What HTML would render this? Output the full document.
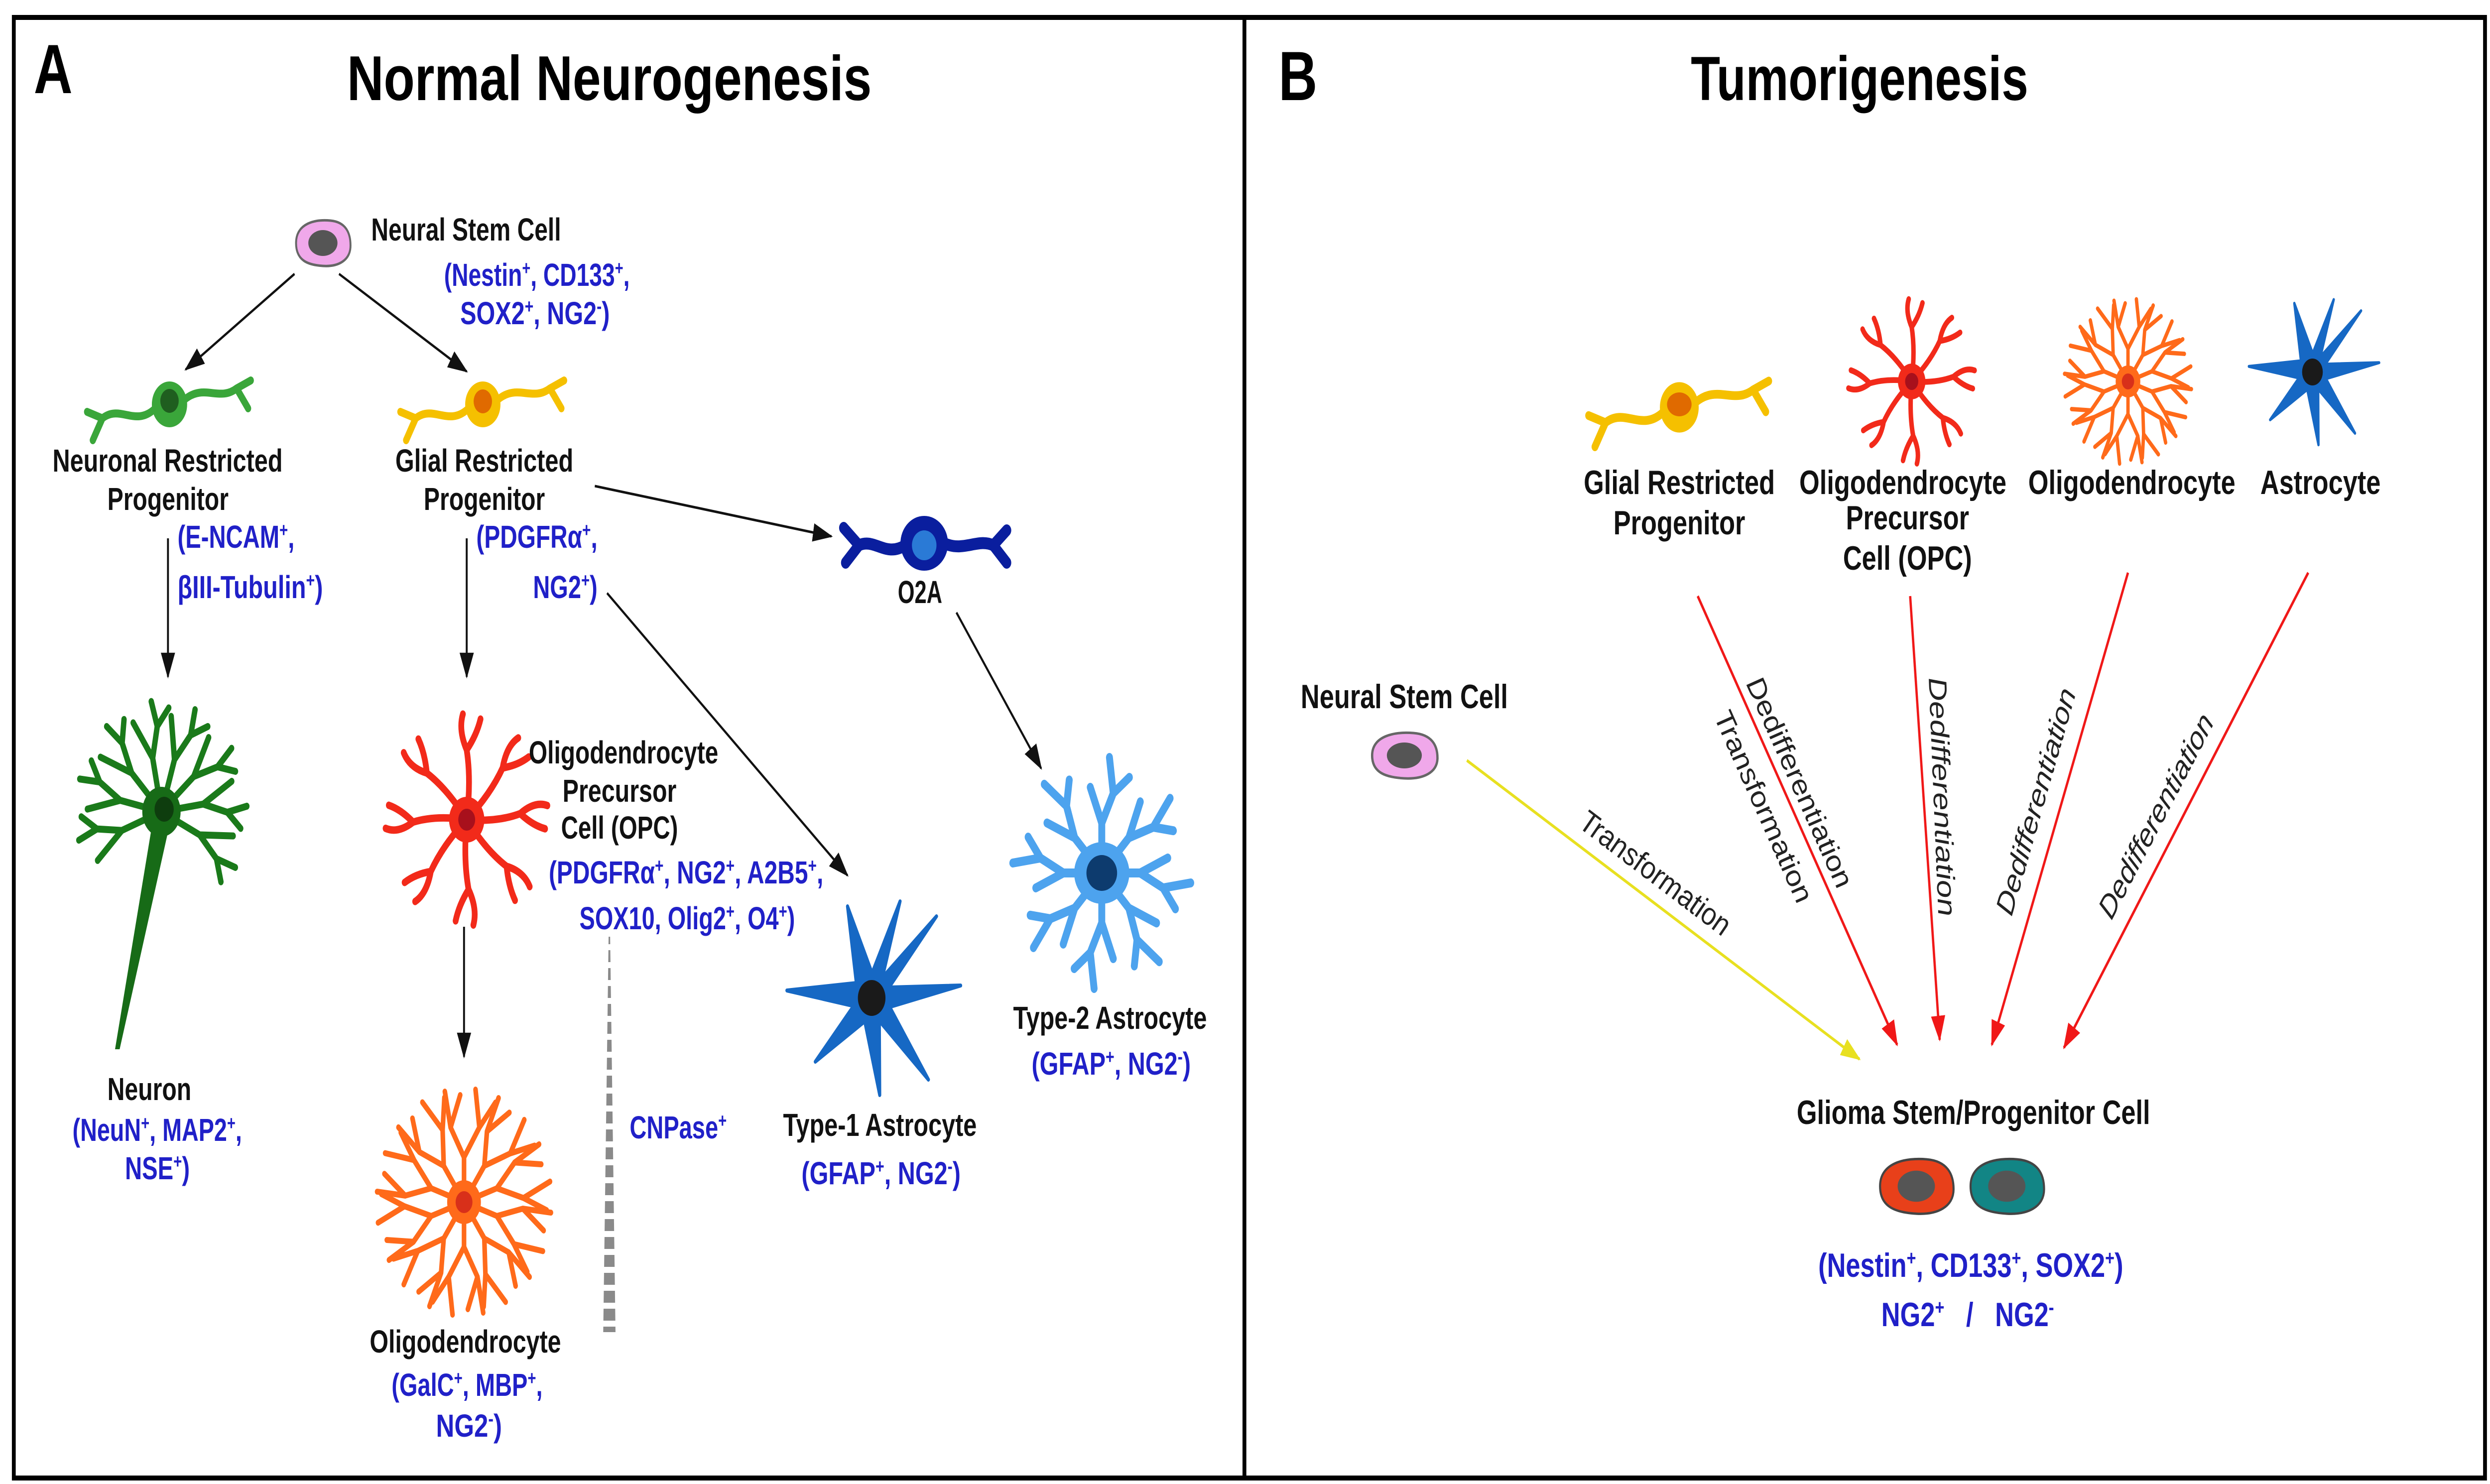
<!DOCTYPE html>
<html><head><meta charset="utf-8"><style>
html,body{margin:0;padding:0;background:#fff;width:100%;height:100%;overflow:hidden}
svg{display:block;width:100vw;height:100vh}
text{font-family:"Liberation Sans",Arial,sans-serif;font-weight:bold}
.k{fill:#111;font-size:64px}
.b{fill:#2020c8;font-size:64px}
.bk{fill:#111;font-size:68px}
.bb{fill:#2020c8;font-size:68px}
.it{fill:#222;font-size:66px;font-weight:normal;font-style:italic}
</style></head><body>
<svg viewBox="0 0 6493 2980" preserveAspectRatio="none" xmlns="http://www.w3.org/2000/svg">
<defs>
<marker id="mk" viewBox="0 0 14 10" refX="13" refY="5" markerWidth="52" markerHeight="38" markerUnits="userSpaceOnUse" orient="auto"><path d="M0,0 L14,5 L0,10 z" fill="#111"/></marker>
<marker id="mr" viewBox="0 0 14 10" refX="13" refY="5" markerWidth="52" markerHeight="38" markerUnits="userSpaceOnUse" orient="auto"><path d="M0,0 L14,5 L0,10 z" fill="#f01818"/></marker>
<marker id="my" viewBox="0 0 14 10" refX="13" refY="5" markerWidth="52" markerHeight="38" markerUnits="userSpaceOnUse" orient="auto"><path d="M0,0 L14,5 L0,10 z" fill="#e8e020"/></marker>
<pattern id="stripes" patternUnits="userSpaceOnUse" width="80" height="36"><rect width="80" height="24" fill="#8a8a8a"/></pattern>

<g id="bip" fill="none" stroke="currentColor" stroke-width="16" stroke-linecap="round">
 <path d="M-40,10 C-90,45 -130,0 -175,28 L-215,15 M-175,28 L-200,72"/>
 <path d="M40,-10 C90,-42 130,-5 175,-32 L212,-48 M175,-32 L205,8"/>
 <circle cx="0" cy="0" r="46" fill="currentColor" stroke="none"/>
</g>
<path id="armO" d="M0,0 Q12,-80 0,-140 Q-22,-180 -10,-212 M0,-140 Q26,-170 36,-202" fill="none" stroke="currentColor" stroke-width="15" stroke-linecap="round"/>
<path id="armL" d="M0,0 L0,-90 L-35,-150 L-50,-222 M-35,-150 L-10,-215 M0,-90 L40,-150 L30,-226 M40,-150 L82,-200" fill="none" stroke="currentColor" stroke-width="12" stroke-linecap="round" stroke-linejoin="round"/>
<path id="armA" d="M0,0 L0,-100 L-30,-172 M0,-100 L30,-160 L20,-232 M30,-160 L72,-192" fill="none" stroke="currentColor" stroke-width="18" stroke-linecap="round" stroke-linejoin="round"/>
<path id="armN" d="M0,0 L0,-110 L-35,-190 M0,-110 L25,-170 L20,-222 M25,-170 L62,-200" fill="none" stroke="currentColor" stroke-width="14" stroke-linecap="round" stroke-linejoin="round"/>

<g id="opc" color="#f22a1a">
 <use href="#armO" transform="rotate(0)"/><use href="#armO" transform="rotate(42)"/><use href="#armO" transform="rotate(85)"/><use href="#armO" transform="rotate(132)"/><use href="#armO" transform="rotate(178)"/><use href="#armO" transform="rotate(222)"/><use href="#armO" transform="rotate(268)"/><use href="#armO" transform="rotate(312)"/>
 <circle r="46" fill="#f22a1a"/><circle r="22" fill="#a8101c"/>
</g>
<g id="olig" color="#ff6a1a">
 <use href="#armL" transform="rotate(0)"/><use href="#armL" transform="rotate(36)"/><use href="#armL" transform="rotate(72)"/><use href="#armL" transform="rotate(108)"/><use href="#armL" transform="rotate(144)"/><use href="#armL" transform="rotate(180)"/><use href="#armL" transform="rotate(216)"/><use href="#armL" transform="rotate(252)"/><use href="#armL" transform="rotate(288)"/><use href="#armL" transform="rotate(324)"/>
 <circle r="44" fill="#ff6a1a"/><circle r="22" fill="#d8301a"/>
</g>
<g id="star">
 <polygon points="-63,-184 1,-50 74,-194 28,-41 169,-164 45,-21 232,-25 47,18 148,164 20,46 21,195 -18,47 -147,128 -47,16 -221,-15 -40,-30" fill="#1668c4" stroke="#1668c4" stroke-width="8" stroke-linejoin="round"/>
 <circle r="36" fill="#1a1a1a"/>
</g>
<g id="nsc">
 <path d="M-70,0 C-70,-40 -20,-48 20,-45 C60,-42 72,-20 72,5 C72,35 40,48 0,46 C-40,44 -70,35 -70,0 Z" fill="#f0a8ea" stroke="#666" stroke-width="5"/>
 <ellipse rx="38" ry="26" fill="#555"/>
</g>
</defs>

<rect x="36" y="35" width="6444" height="2933" fill="none" stroke="#000" stroke-width="10"/>
<line x1="3245" y1="30" x2="3245" y2="2972" stroke="#000" stroke-width="10"/>

<!-- PANEL A -->
<text x="88" y="187" style="font-size:140px" fill="#000">A</text>
<text x="905" y="201" textLength="1368" lengthAdjust="spacingAndGlyphs" style="font-size:127px" fill="#000">Normal Neurogenesis</text>

<use href="#nsc" transform="translate(842,488)"/>
<text class="k" x="968" y="483" textLength="495" lengthAdjust="spacingAndGlyphs">Neural Stem Cell</text>
<text class="b" x="1158" y="574" textLength="484" lengthAdjust="spacingAndGlyphs">(Nestin<tspan baseline-shift="super" font-size="40">+</tspan>, CD133<tspan baseline-shift="super" font-size="40">+</tspan>,</text>
<text class="b" x="1200" y="651" textLength="390" lengthAdjust="spacingAndGlyphs">SOX2<tspan baseline-shift="super" font-size="40">+</tspan>, NG2<tspan baseline-shift="super" font-size="40">-</tspan>)</text>

<g stroke="#111" stroke-width="5" fill="none" marker-end="url(#mk)">
 <line x1="768" y1="550" x2="484" y2="742"/>
 <line x1="884" y1="550" x2="1217" y2="746"/>
 <line x1="438" y1="1081" x2="438" y2="1359"/>
 <line x1="1217" y1="1081" x2="1217" y2="1359"/>
 <line x1="1551" y1="976" x2="2168" y2="1077"/>
 <line x1="2494" y1="1230" x2="2715" y2="1543"/>
 <line x1="1583" y1="1191" x2="2210" y2="1758"/>
 <line x1="1210" y1="1861" x2="1210" y2="2122"/>
</g>

<use href="#bip" color="#3aa63a" transform="translate(442,812)"/>
<circle cx="442" cy="805" r="24" fill="#1f5e1f"/>
<use href="#bip" color="#f5c000" transform="translate(1259,812)"/>
<circle cx="1259" cy="806" r="24" fill="#e06a00"/>

<text class="k" x="137" y="947" textLength="600" lengthAdjust="spacingAndGlyphs">Neuronal Restricted</text>
<text class="k" x="280" y="1024" textLength="316" lengthAdjust="spacingAndGlyphs">Progenitor</text>
<text class="k" x="1031" y="947" textLength="464" lengthAdjust="spacingAndGlyphs">Glial Restricted</text>
<text class="k" x="1105" y="1024" textLength="316" lengthAdjust="spacingAndGlyphs">Progenitor</text>
<text class="b" x="463" y="1100" textLength="305" lengthAdjust="spacingAndGlyphs">(E-NCAM<tspan baseline-shift="super" font-size="40">+</tspan>,</text>
<text class="b" x="463" y="1201" textLength="379" lengthAdjust="spacingAndGlyphs">βIII-Tubulin<tspan baseline-shift="super" font-size="40">+</tspan>)</text>
<text class="b" x="1242" y="1100" textLength="316" lengthAdjust="spacingAndGlyphs">(PDGFRα<tspan baseline-shift="super" font-size="40">+</tspan>,</text>
<text class="b" x="1390" y="1201" textLength="168" lengthAdjust="spacingAndGlyphs">NG2<tspan baseline-shift="super" font-size="40">+</tspan>)</text>

<g fill="none" stroke="#0a1e9e" stroke-width="24" stroke-linecap="round">
 <path d="M2360,1095 C2310,1120 2280,1080 2240,1095 L2200,1060 M2240,1095 L2205,1130"/>
 <path d="M2460,1090 C2510,1110 2550,1080 2590,1095 L2625,1065 M2590,1095 L2625,1130"/>
</g>
<ellipse cx="2410" cy="1091" rx="62" ry="55" fill="#0a1e9e"/>
<ellipse cx="2410" cy="1095" rx="32" ry="30" fill="#2a7ad6"/>
<text class="k" x="2341" y="1211" textLength="116" lengthAdjust="spacingAndGlyphs">O2A</text>

<g color="#1a7a1a">
 <use href="#armN" transform="translate(421,1630) rotate(-110)"/>
 <use href="#armN" transform="translate(421,1630) rotate(-78)"/>
 <use href="#armN" transform="translate(421,1630) rotate(-45)"/>
 <use href="#armN" transform="translate(421,1630) rotate(-12)"/>
 <use href="#armN" transform="translate(421,1630) rotate(18)"/>
 <use href="#armN" transform="translate(421,1630) rotate(50)"/>
 <use href="#armN" transform="translate(421,1630) rotate(82)"/>
 <use href="#armN" transform="translate(421,1630) rotate(115)"/>
</g>
<polygon points="398,1650 444,1650 312,2107 300,2107" fill="#176b17"/>
<circle cx="421" cy="1630" r="50" fill="#176b17"/>
<circle cx="428" cy="1625" r="25" fill="#0e3d0e"/>
<text class="k" x="280" y="2209" textLength="219" lengthAdjust="spacingAndGlyphs">Neuron</text>
<text class="b" x="189" y="2291" textLength="442" lengthAdjust="spacingAndGlyphs">(NeuN<tspan baseline-shift="super" font-size="40">+</tspan>, MAP2<tspan baseline-shift="super" font-size="40">+</tspan>,</text>
<text class="b" x="326" y="2368" textLength="169" lengthAdjust="spacingAndGlyphs">NSE<tspan baseline-shift="super" font-size="40">+</tspan>)</text>

<use href="#opc" transform="translate(1217,1646)"/>
<text class="k" x="1379" y="1533" textLength="494" lengthAdjust="spacingAndGlyphs">Oligodendrocyte</text>
<text class="k" x="1467" y="1610" textLength="297" lengthAdjust="spacingAndGlyphs">Precursor</text>
<text class="k" x="1463" y="1684" textLength="305" lengthAdjust="spacingAndGlyphs">Cell (OPC)</text>
<text class="b" x="1431" y="1774" textLength="716" lengthAdjust="spacingAndGlyphs">(PDGFRα<tspan baseline-shift="super" font-size="40">+</tspan>, NG2<tspan baseline-shift="super" font-size="40">+</tspan>, A2B5<tspan baseline-shift="super" font-size="40">+</tspan>,</text>
<text class="b" x="1511" y="1866" textLength="562" lengthAdjust="spacingAndGlyphs">SOX10, Olig2<tspan baseline-shift="super" font-size="40">+</tspan>, O4<tspan baseline-shift="super" font-size="40">+</tspan>)</text>

<polygon points="1587,1881 1591,1881 1605,2675 1573,2675" fill="url(#stripes)"/>
<text class="b" x="1642" y="2286" textLength="253" lengthAdjust="spacingAndGlyphs">CNPase<tspan baseline-shift="super" font-size="40">+</tspan></text>

<use href="#olig" transform="translate(1210,2414)"/>
<text class="k" x="964" y="2716" textLength="499" lengthAdjust="spacingAndGlyphs">Oligodendrocyte</text>
<text class="b" x="1021" y="2803" textLength="394" lengthAdjust="spacingAndGlyphs">(GalC<tspan baseline-shift="super" font-size="40">+</tspan>, MBP<tspan baseline-shift="super" font-size="40">+</tspan>,</text>
<text class="b" x="1137" y="2885" textLength="172" lengthAdjust="spacingAndGlyphs">NG2<tspan baseline-shift="super" font-size="40">-</tspan>)</text>

<use href="#star" transform="translate(2273,2004)"/>
<text class="k" x="2042" y="2281" textLength="505" lengthAdjust="spacingAndGlyphs">Type-1 Astrocyte</text>
<text class="b" x="2090" y="2378" textLength="415" lengthAdjust="spacingAndGlyphs">(GFAP<tspan baseline-shift="super" font-size="40">+</tspan>, NG2<tspan baseline-shift="super" font-size="40">-</tspan>)</text>

<g color="#4da3ee">
 <use href="#armA" transform="translate(2873,1753) rotate(0)"/>
 <use href="#armA" transform="translate(2873,1753) rotate(45)"/>
 <use href="#armA" transform="translate(2873,1753) rotate(90)"/>
 <use href="#armA" transform="translate(2873,1753) rotate(135)"/>
 <use href="#armA" transform="translate(2873,1753) rotate(180)"/>
 <use href="#armA" transform="translate(2873,1753) rotate(225)"/>
 <use href="#armA" transform="translate(2873,1753) rotate(270)"/>
 <use href="#armA" transform="translate(2873,1753) rotate(315)"/>
</g>
<ellipse cx="2873" cy="1753" rx="72" ry="62" fill="#4da3ee"/>
<ellipse cx="2873" cy="1753" rx="40" ry="36" fill="#0d3b6e"/>
<text class="k" x="2642" y="2066" textLength="505" lengthAdjust="spacingAndGlyphs">Type-2 Astrocyte</text>
<text class="b" x="2690" y="2158" textLength="415" lengthAdjust="spacingAndGlyphs">(GFAP<tspan baseline-shift="super" font-size="40">+</tspan>, NG2<tspan baseline-shift="super" font-size="40">-</tspan>)</text>

<!-- PANEL B -->
<text x="3334" y="201" style="font-size:140px" fill="#000">B</text>
<text x="4849" y="201" text-anchor="middle" style="font-size:125px" fill="#000">Tumorigenesis</text>

<use href="#bip" color="#f5c000" transform="translate(4379,818) scale(1.1)"/>
<ellipse cx="4379" cy="812" rx="32" ry="24" fill="#e06a00"/>
<use href="#opc" transform="translate(4985,766) scale(0.78)"/>
<use href="#olig" transform="translate(5549,766) scale(0.73)"/>
<use href="#star" transform="translate(6030,747) scale(0.75)"/>

<text class="bk" x="4379" y="992" text-anchor="middle">Glial Restricted</text>
<text class="bk" x="4379" y="1073" text-anchor="middle">Progenitor</text>
<text class="bk" x="4962" y="992" text-anchor="middle">Oligodendrocyte</text>
<text class="bk" x="4974" y="1063" text-anchor="middle">Precursor</text>
<text class="bk" x="4974" y="1144" text-anchor="middle">Cell (OPC)</text>
<text class="bk" x="5559" y="992" text-anchor="middle">Oligodendrocyte</text>
<text class="bk" x="6051" y="992" text-anchor="middle">Astrocyte</text>

<text class="bk" x="3662" y="1422" text-anchor="middle">Neural Stem Cell</text>
<use href="#nsc" transform="translate(3662,1517) scale(1.2,1)"/>

<line x1="3825" y1="1527" x2="4849" y2="2127" stroke="#e8e020" stroke-width="6" marker-end="url(#my)"/>
<g stroke="#f01818" stroke-width="6" marker-end="url(#mr)">
 <line x1="4427" y1="1197" x2="4947" y2="2098"/>
 <line x1="4981" y1="1197" x2="5058" y2="2088"/>
 <line x1="5549" y1="1150" x2="5194" y2="2098"/>
 <line x1="6019" y1="1150" x2="5382" y2="2104"/>
</g>

<text class="it" text-anchor="middle" transform="translate(4316,1753) rotate(30.4)" y="22">Transformation</text>
<text class="it" text-anchor="middle" transform="translate(4692,1571) rotate(60)" y="22">Dedifferentiation</text>
<text class="it" text-anchor="middle" transform="translate(4598,1619) rotate(60)" y="22">Transformation</text>
<text class="it" text-anchor="middle" transform="translate(5064,1600) rotate(87)" y="22">Dedifferentiation</text>
<text class="it" text-anchor="middle" transform="translate(5309,1609) rotate(-69.5)" y="22">Dedifferentiation</text>
<text class="it" text-anchor="middle" transform="translate(5622,1638) rotate(-56)" y="22">Dedifferentiation</text>

<text class="bk" x="5146" y="2257" text-anchor="middle">Glioma Stem/Progenitor Cell</text>
<g transform="translate(4997,2382) scale(1.35,1.2)">
 <path d="M-70,0 C-70,-40 -20,-48 20,-45 C60,-42 72,-20 72,5 C72,35 40,48 0,46 C-40,44 -70,35 -70,0 Z" fill="#e8401a" stroke="#444" stroke-width="4"/>
 <ellipse rx="36" ry="26" fill="#555"/>
</g>
<g transform="translate(5233,2382) scale(1.35,1.2)">
 <path d="M-70,0 C-70,-40 -20,-48 20,-45 C60,-42 72,-20 72,5 C72,35 40,48 0,46 C-40,44 -70,35 -70,0 Z" fill="#128585" stroke="#444" stroke-width="4"/>
 <ellipse rx="36" ry="26" fill="#555"/>
</g>
<text class="bb" x="5139" y="2564" text-anchor="middle">(Nestin<tspan baseline-shift="super" font-size="42">+</tspan>, CD133<tspan baseline-shift="super" font-size="42">+</tspan>, SOX2<tspan baseline-shift="super" font-size="42">+</tspan>)</text>
<text class="bb" x="5131" y="2663" text-anchor="middle" xml:space="preserve">NG2<tspan baseline-shift="super" font-size="42">+</tspan>   /   NG2<tspan baseline-shift="super" font-size="42">-</tspan></text>
</svg>
</body></html>
